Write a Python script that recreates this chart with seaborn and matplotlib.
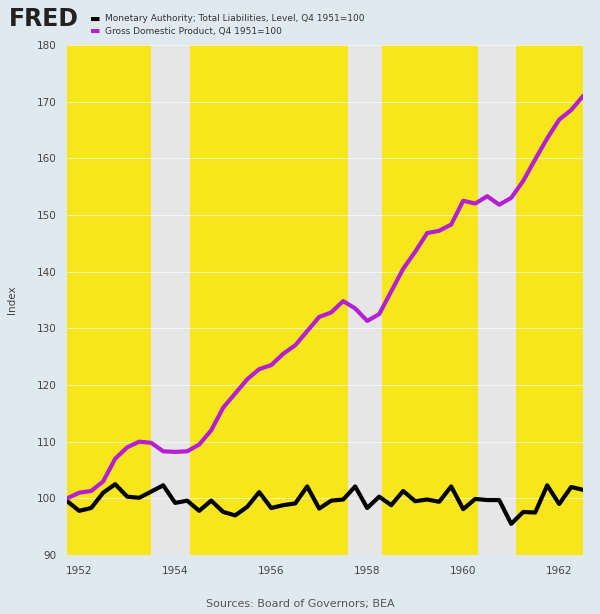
import numpy as np
import pandas as pd
import matplotlib
matplotlib.use("Agg")
import matplotlib.pyplot as plt
import seaborn as sns

# quarterly, 1951Q4 .. 1962Q3
quarters = pd.period_range("1951Q4", "1962Q3", freq="Q")
gdp = [100, 101, 101.3, 103, 107, 109, 110, 109.8, 108.3, 108.2, 108.3, 109.5,
       112, 116, 118.5, 121, 122.8, 123.5, 125.5, 127, 129.5, 132, 132.8, 134.8,
       133.5, 131.3, 132.5, 136.5, 140.5, 143.5, 146.8, 147.2, 148.3, 152.5, 152,
       153.3, 151.8, 153, 156, 159.8, 163.5, 166.8, 168.5, 171]
liab = [99.5, 97.8, 98.3, 101, 102.5, 100.3, 100.1, 101.2, 102.3, 99.2, 99.6, 97.8,
        99.6, 97.6, 97.0, 98.5, 101.1, 98.3, 98.8, 99.1, 102.1, 98.2, 99.6, 99.8,
        102.1, 98.3, 100.3, 98.8, 101.3, 99.5, 99.8, 99.4, 102.1, 98.1, 99.9, 99.7,
        99.7, 95.5, 97.6, 97.5, 102.3, 99, 102, 101.5]
# yellow periods (non-recession) in decimal years
yellow_spans = [(1951.75, 1953.5), (1954.3, 1957.6), (1958.3, 1960.3), (1961.1, 1962.5)]

x = np.array([q.year + (q.quarter - 1) / 4 for q in quarters])
df = pd.DataFrame({"x": np.concatenate([x, x]),
                   "value": gdp + liab,
                   "series": ["gdp"] * len(x) + ["liab"] * len(x)})

bg = "#e1e9f0"
sns.set_theme(style="white")
fig = plt.figure(figsize=(6, 6.14), dpi=100, facecolor=bg)
ax = fig.add_axes([0.112, 0.096, 0.86, 0.831], facecolor="#e6e6e6")

for a, b in yellow_spans:
    ax.axvspan(a, b, color="#f8e61c", lw=0, zorder=0)
for yv in range(100, 181, 10):
    ax.axhline(yv, color="white", lw=0.8, alpha=0.6, zorder=1)

sns.lineplot(data=df[df.series == "liab"], x="x", y="value", color="black", lw=3, ax=ax, zorder=3)
sns.lineplot(data=df[df.series == "gdp"], x="x", y="value", color="#b51fd2", lw=3, ax=ax, zorder=3)

ax.set_xlim(1951.75, 1962.5)
ax.set_ylim(90, 180)
ax.set_xticks(range(1952, 1963, 2))
ax.set_yticks(range(90, 181, 10))
ax.tick_params(labelsize=7.5, colors="#444444", length=0, pad=8)
for s in ax.spines.values():
    s.set_visible(False)
ax.set_xlabel("")
ax.set_ylabel("Index", fontsize=7.5, color="#444444", labelpad=14)

fig.text(0.015, 0.958, "FRED", fontsize=17, fontweight="bold", color="#222222")
fig.text(0.15, 0.964, "\u25ac", fontsize=8, color="black")
fig.text(0.175, 0.965, "Monetary Authority; Total Liabilities, Level, Q4 1951=100", fontsize=6.5, color="#333333")
fig.text(0.15, 0.944, "\u25ac", fontsize=8, color="#b51fd2")
fig.text(0.175, 0.945, "Gross Domestic Product, Q4 1951=100", fontsize=6.5, color="#333333")
fig.text(0.5, 0.012, "Sources: Board of Governors; BEA", fontsize=8, color="#555555", ha="center")

fig.savefig("out.png", dpi=100, facecolor=bg)
